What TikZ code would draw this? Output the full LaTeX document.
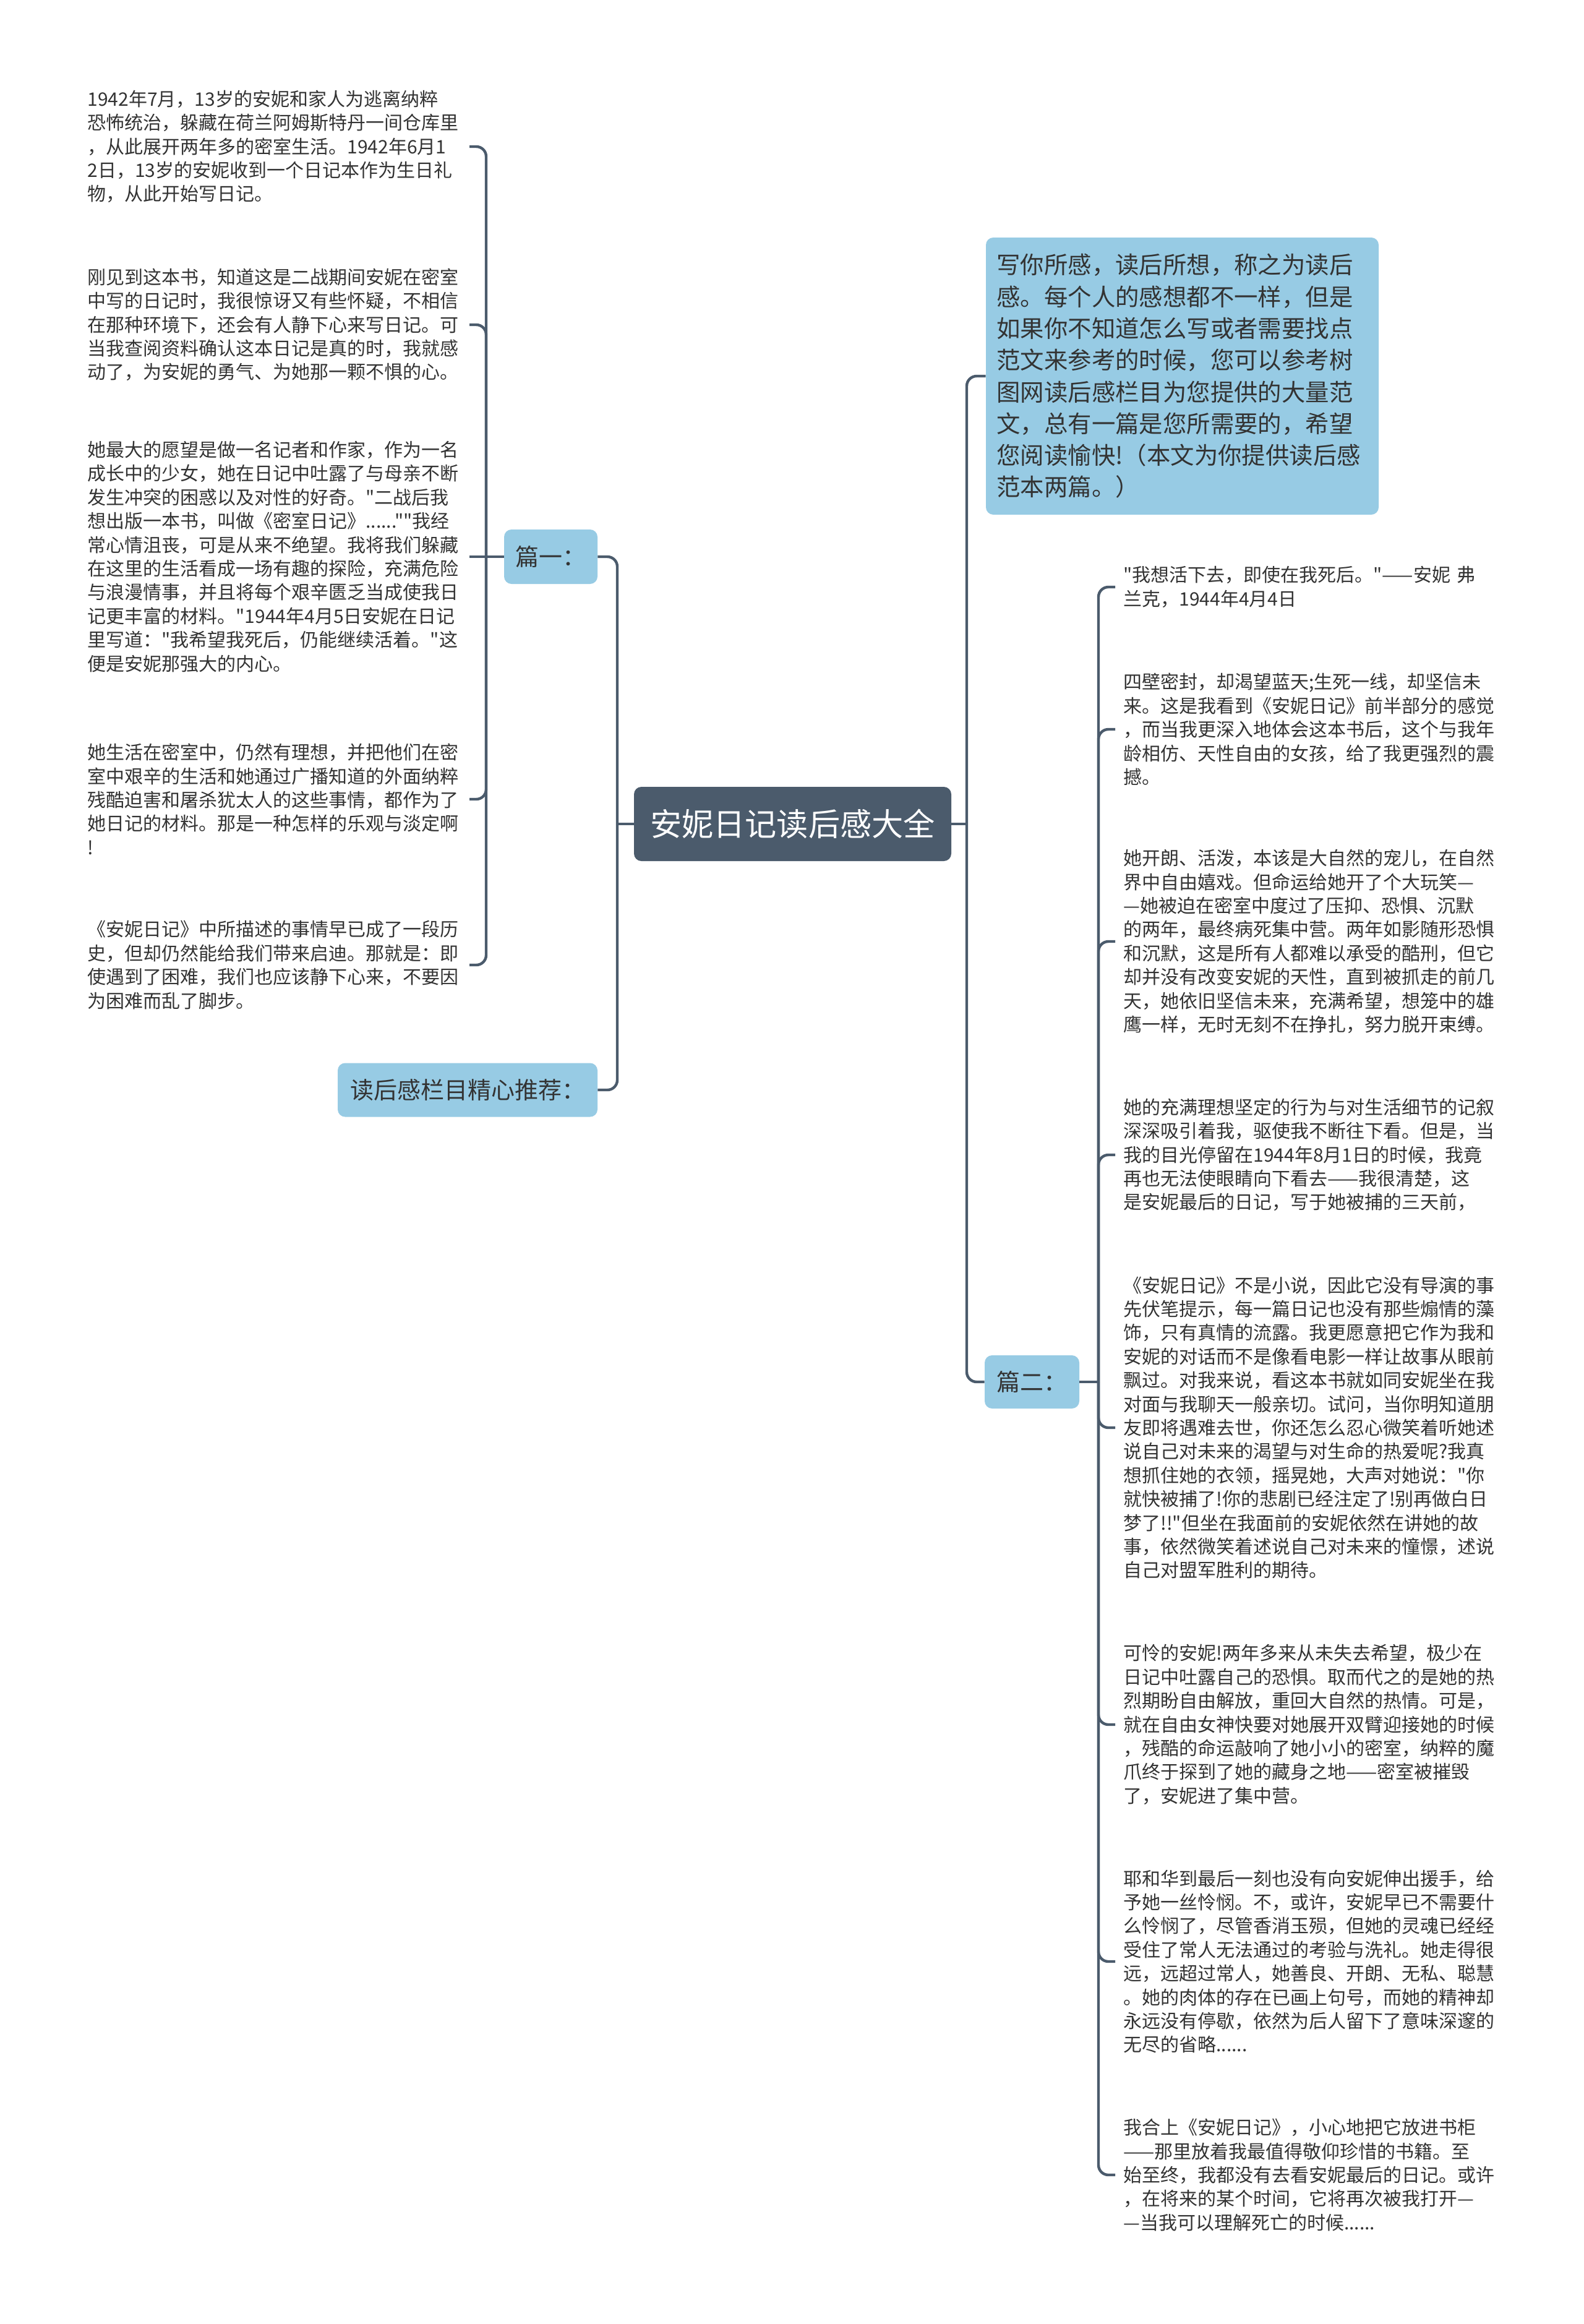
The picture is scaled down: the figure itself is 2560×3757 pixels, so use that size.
\documentclass[tikz,border=0pt]{standalone}
\usepackage{fontspec}
\setmainfont{Noto Sans CJK SC}[Ligatures=TeXOff]
\definecolor{linec}{HTML}{4B5B6C}
\definecolor{centerc}{HTML}{4B5B6C}
\definecolor{bluec}{HTML}{97CBE4}
\definecolor{txtc}{HTML}{333333}
\begin{document}
\begin{tikzpicture}[x=0.5pt,y=-0.5pt,
  leaf/.style={text width=302pt, align=left, inner xsep=6.5pt, inner ysep=3pt, text=txtc,
    font={\fontsize{15pt}{19.2pt}\selectfont}},
  bluebox/.style={fill=bluec, rounded corners=6pt, text=txtc, inner sep=0pt,
    font={\fontsize{19pt}{24pt}\selectfont}},
  centerbox/.style={fill=centerc, rounded corners=6pt, text=white, inner sep=0pt,
    minimum width=256.5pt, minimum height=60pt, font={\fontsize{25.6pt}{30pt}\selectfont}},
  conn/.style={draw=linec, line width=2.2pt, rounded corners=8pt}]
\useasboundingbox (0,0) rectangle (2560,3757);
\fill[white] (0,0) rectangle (2560,3757);

% central node
\node[centerbox] (c) at (1281.5,1332) {安妮日记读后感大全};

% first level
\node[bluebox, minimum width=75.5pt, minimum height=44pt] (p1) at (890.5,900) {篇一：};
\node[bluebox, minimum width=210pt, minimum height=43.5pt] (rec) at (756,1762) {读后感栏目精心推荐：};
\node[bluebox, text width=300pt, align=left, inner xsep=8.75pt, minimum height=224pt,
  font={\fontsize{19.2pt}{25.65pt}\selectfont}] (intro) at (1911.5,608)
  {写你所感，读后所想，称之为读后\\感。每个人的感想都不一样，但是\\如果你不知道怎么写或者需要找点\\范文来参考的时候，您可以参考树\\图网读后感栏目为您提供的大量范\\文，总有一篇是您所需要的，希望\\您阅读愉快!（本文为你提供读后感\\范本两篇。）};
\node[bluebox, minimum width=76.5pt, minimum height=43pt] (p2) at (1668.5,2234) {篇二：};

% left leaves
\node[leaf, anchor=east] (L1) at (759,237) {1942年7月，13岁的安妮和家人为逃离纳粹\\恐怖统治，躲藏在荷兰阿姆斯特丹一间仓库里\\，从此展开两年多的密室生活。1942年6月1\\2日，13岁的安妮收到一个日记本作为生日礼\\物，从此开始写日记。};
\node[leaf, anchor=east] (L2) at (759,525) {刚见到这本书，知道这是二战期间安妮在密室\\中写的日记时，我很惊讶又有些怀疑，不相信\\在那种环境下，还会有人静下心来写日记。可\\当我查阅资料确认这本日记是真的时，我就感\\动了，为安妮的勇气、为她那一颗不惧的心。};
\node[leaf, anchor=east] (L3) at (759,900) {她最大的愿望是做一名记者和作家，作为一名\\成长中的少女，她在日记中吐露了与母亲不断\\发生冲突的困惑以及对性的好奇。"二战后我\\想出版一本书，叫做《密室日记》......""我经\\常心情沮丧，可是从来不绝望。我将我们躲藏\\在这里的生活看成一场有趣的探险，充满危险\\与浪漫情事，并且将每个艰辛匮乏当成使我日\\记更丰富的材料。"1944年4月5日安妮在日记\\里写道："我希望我死后，仍能继续活着。"这\\便是安妮那强大的内心。};
\node[leaf, anchor=east] (L4) at (759,1292) {她生活在密室中，仍然有理想，并把他们在密\\室中艰辛的生活和她通过广播知道的外面纳粹\\残酷迫害和屠杀犹太人的这些事情，都作为了\\她日记的材料。那是一种怎样的乐观与淡定啊\\!};
\node[leaf, anchor=east] (L5) at (759,1560) {《安妮日记》中所描述的事情早已成了一段历\\史，但却仍然能给我们带来启迪。那就是：即\\使遇到了困难，我们也应该静下心来，不要因\\为困难而乱了脚步。};

% right leaves
\node[leaf, anchor=west] (R1) at (1803,949) {"我想活下去，即使在我死后。"——安妮 弗\\兰克，1944年4月4日};
\node[leaf, anchor=west] (R2) at (1803,1179) {四壁密封，却渴望蓝天;生死一线，却坚信未\\来。这是我看到《安妮日记》前半部分的感觉\\，而当我更深入地体会这本书后，这个与我年\\龄相仿、天性自由的女孩，给了我更强烈的震\\撼。};
\node[leaf, anchor=west] (R3) at (1803,1522) {她开朗、活泼，本该是大自然的宠儿，在自然\\界中自由嬉戏。但命运给她开了个大玩笑—\\—她被迫在密室中度过了压抑、恐惧、沉默\\的两年，最终病死集中营。两年如影随形恐惧\\和沉默，这是所有人都难以承受的酷刑，但它\\却并没有改变安妮的天性，直到被抓走的前几\\天，她依旧坚信未来，充满希望，想笼中的雄\\鹰一样，无时无刻不在挣扎，努力脱开束缚。};
\node[leaf, anchor=west] (R4) at (1803,1867) {她的充满理想坚定的行为与对生活细节的记叙\\深深吸引着我，驱使我不断往下看。但是，当\\我的目光停留在1944年8月1日的时候，我竟\\再也无法使眼睛向下看去——我很清楚，这\\是安妮最后的日记，写于她被捕的三天前，};
\node[leaf, anchor=west] (R5) at (1803,2308) {《安妮日记》不是小说，因此它没有导演的事\\先伏笔提示，每一篇日记也没有那些煽情的藻\\饰，只有真情的流露。我更愿意把它作为我和\\安妮的对话而不是像看电影一样让故事从眼前\\飘过。对我来说，看这本书就如同安妮坐在我\\对面与我聊天一般亲切。试问，当你明知道朋\\友即将遇难去世，你还怎么忍心微笑着听她述\\说自己对未来的渴望与对生命的热爱呢?我真\\想抓住她的衣领，摇晃她，大声对她说："你\\就快被捕了!你的悲剧已经注定了!别再做白日\\梦了!!"但坐在我面前的安妮依然在讲她的故\\事，依然微笑着述说自己对未来的憧憬，述说\\自己对盟军胜利的期待。};
\node[leaf, anchor=west] (R6) at (1803,2788) {可怜的安妮!两年多来从未失去希望，极少在\\日记中吐露自己的恐惧。取而代之的是她的热\\烈期盼自由解放，重回大自然的热情。可是，\\就在自由女神快要对她展开双臂迎接她的时候\\，残酷的命运敲响了她小小的密室，纳粹的魔\\爪终于探到了她的藏身之地——密室被摧毁\\了，安妮进了集中营。};
\node[leaf, anchor=west] (R7) at (1803,3171) {耶和华到最后一刻也没有向安妮伸出援手，给\\予她一丝怜悯。不，或许，安妮早已不需要什\\么怜悯了，尽管香消玉殒，但她的灵魂已经经\\受住了常人无法通过的考验与洗礼。她走得很\\远，远超过常人，她善良、开朗、无私、聪慧\\。她的肉体的存在已画上句号，而她的精神却\\永远没有停歇，依然为后人留下了意味深邃的\\无尽的省略......};
\node[leaf, anchor=west] (R8) at (1803,3516) {我合上《安妮日记》，小心地把它放进书柜\\——那里放着我最值得敬仰珍惜的书籍。至\\始至终，我都没有去看安妮最后的日记。或许\\，在将来的某个时间，它将再次被我打开—\\—当我可以理解死亡的时候......};

% junctions
\coordinate (jL) at (998,1332);
\coordinate (jR) at (1563,1332);
\coordinate (j1) at (786,900);
\coordinate (j2) at (1776,2234);

% connectors from centre
\draw[conn] (c.west) -- (jL);
\draw[conn] (jL) |- (p1.east);
\draw[conn] (jL) |- (rec.east);
\draw[conn] (c.east) -- (jR);
\draw[conn] (jR) |- (intro.west);
\draw[conn] (jR) |- (p2.west);

% connectors of 篇一
\draw[conn] (p1.west) -- (j1);
\draw[conn] (j1) |- (L1.east);
\draw[conn] (j1) |- (L2.east);
\draw[conn] (j1) -- (L3.east);
\draw[conn] (j1) |- (L4.east);
\draw[conn] (j1) |- (L5.east);

% connectors of 篇二
\draw[conn] (p2.east) -- (j2);
\draw[conn] (j2) |- (R1.west);
\draw[conn] (j2) |- (R2.west);
\draw[conn] (j2) |- (R3.west);
\draw[conn] (j2) |- (R4.west);
\draw[conn] (j2) |- (R5.west);
\draw[conn] (j2) |- (R6.west);
\draw[conn] (j2) |- (R7.west);
\draw[conn] (j2) |- (R8.west);
\end{tikzpicture}
\end{document}
